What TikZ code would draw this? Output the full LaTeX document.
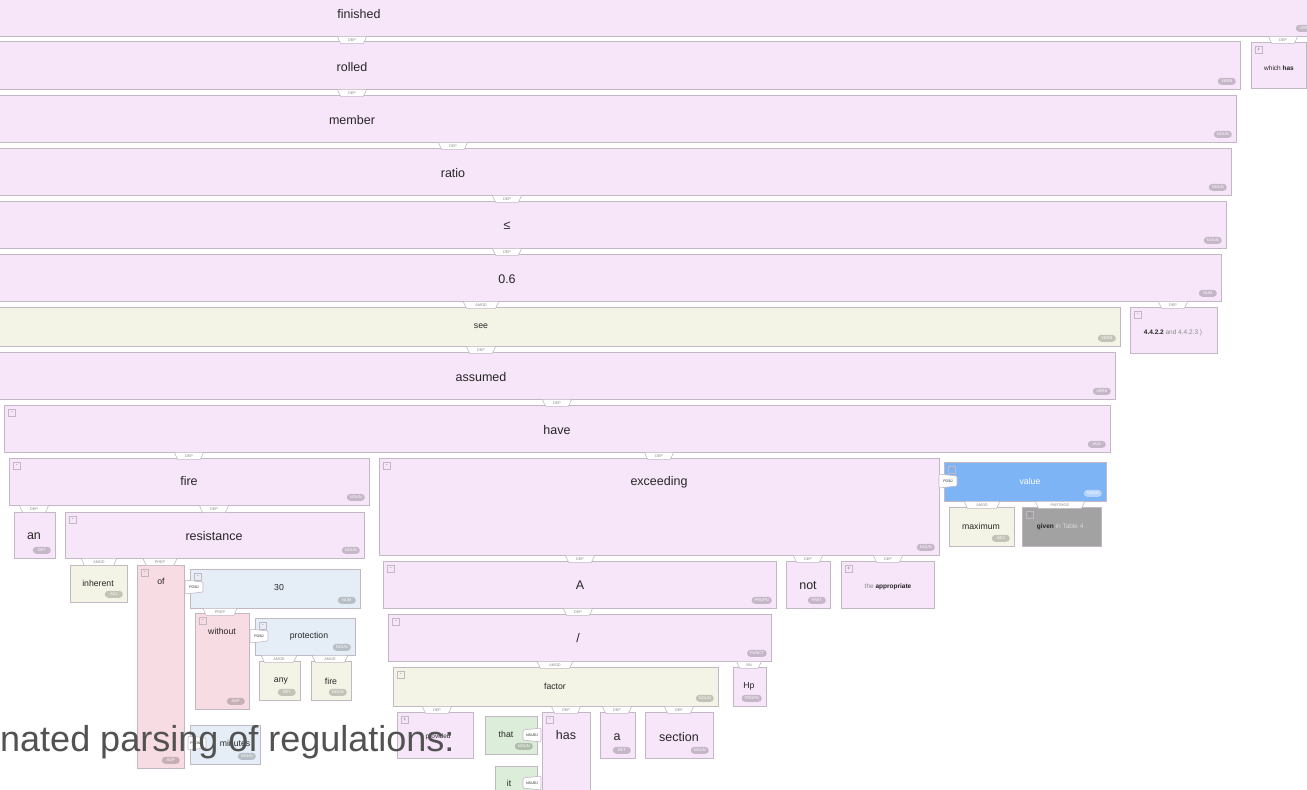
\documentclass[tikz,border=0pt]{standalone}
\usepackage{fontspec}
\setmainfont{Liberation Sans}
\usetikzlibrary{shapes.geometric}
\definecolor{pk}{HTML}{F7E5F9}
\definecolor{bd}{HTML}{C2B8C4}
\definecolor{cr}{HTML}{F4F4E6}
\definecolor{rd}{HTML}{F8DCE3}
\definecolor{lb}{HTML}{E5EEF7}
\definecolor{bl}{HTML}{7CB4F6}
\definecolor{gy}{HTML}{A2A2A2}
\definecolor{gr}{HTML}{DCEDD9}
\definecolor{tx}{HTML}{262626}
\definecolor{lt}{HTML}{8A8A8A}
\newcommand\bx[6]{\node[#6, minimum width={((#4)-(#2))*1pt}, minimum height={((#5)-(#3))*1pt}] (#1) at (#2,#3) {};}
\newcommand\pos[3][]{\node[pill,#1, anchor=south east] (#2-p) at ([xshift=-4pt,yshift=4pt]#2.south east) {#3};}
\newcommand\tg[2]{\node[tog, anchor=north west] (#1-t) at ([xshift=4pt,yshift=-4pt]#1.north west) {#2};}
\newcommand\dtab[4]{\node[dtabst] (#1) at (#2,#3) {#4};}
\newcommand\ltab[4]{\draw[tabline] (#2-9,#3-7) -- (#2+9,#3-5) -- (#2+9,#3+5) -- (#2-9,#3+7) -- cycle;
  \node[sidetx] (#1) at (#2,#3) {#4};}
\newcommand\rtab[4]{\draw[tabline] (#2-9,#3-5) -- (#2+9,#3-7) -- (#2+9,#3+7) -- (#2-9,#3+5) -- cycle;
  \node[sidetx] (#1) at (#2,#3) {#4};}
\begin{document}
\begin{tikzpicture}[x=1pt,y=-1pt,
  box/.style={draw=bd, line width=0.9pt, inner sep=0pt, outer sep=0pt, anchor=north west},
  pkb/.style={box, fill=pk},
  crb/.style={box, fill=cr},
  rdb/.style={box, fill=rd},
  lbb/.style={box, fill=lb},
  blb/.style={box, fill=bl},
  gyb/.style={box, fill=gy},
  grb/.style={box, fill=gr},
  big/.style={font=\fontsize{12.5}{14}\selectfont, text=tx, inner sep=0pt},
  sm/.style={font=\fontsize{8.7}{10}\selectfont, text=tx, inner sep=0pt},
  tn/.style={font=\fontsize{6.5}{8}\selectfont, text=tx, inner sep=0pt},
  pill/.style={rounded corners=3.5pt, fill=black, fill opacity=0.2, text opacity=1, text=white,
    font=\fontsize{4}{4}\selectfont, inner xsep=3pt, inner ysep=0pt, minimum height=7pt, minimum width=18pt},
  tog/.style={draw=bd, line width=0.6pt, minimum size=7pt, inner sep=0pt,
    font=\fontsize{6}{6}\selectfont, text=lt},
  dtabst/.style={trapezium, trapezium angle=65, shape border rotate=180, draw=bd, fill=white,
    line width=0.6pt, inner xsep=2pt, inner ysep=0.5pt, minimum height=7pt, minimum width=14pt,
    anchor=north, font=\fontsize{3.8}{4}\selectfont, text=lt},
  tabline/.style={draw=bd, fill=white, line width=0.6pt, rounded corners=1pt},
  sidetx/.style={font=\fontsize{3.6}{4}\selectfont, text=tx, inner sep=0pt},
  bigtext/.style={font=\fontsize{36}{40}\selectfont, text=black!68, inner sep=0pt, anchor=base west}
]
\useasboundingbox (0,0) rectangle (1307,790);
\clip (0,0) rectangle (1307,790);
\fill[white] (0,0) rectangle (1307,790);
% boxes
\bx{fin}{-5}{-10}{1318}{36}{pkb}
\bx{whi}{1251}{42}{1306}{88}{pkb}
\bx{rol}{-5}{41}{1240}{89}{pkb}
\bx{mem}{-5}{95}{1236}{142}{pkb}
\bx{rat}{-5}{148}{1231}{195}{pkb}
\bx{leq}{-5}{201}{1226}{248}{pkb}
\bx{num}{-5}{254}{1221}{301}{pkb}
\bx{see}{-5}{307}{1120}{346}{crb}
\bx{fou}{1130}{307}{1217}{353}{pkb}
\bx{ass}{-5}{352}{1115}{399}{pkb}
\bx{hav}{4}{405}{1110}{452}{pkb}
\bx{fir}{9}{458}{369}{505}{pkb}
\bx{exc}{379}{458}{939}{555}{pkb}
\bx{val}{944}{462}{1106}{501}{blb}
\bx{an}{14}{512}{55}{558}{pkb}
\bx{res}{65}{512}{364}{558}{pkb}
\bx{inh}{70}{565}{127}{602}{crb}
\bx{of}{137}{565}{184}{768}{rdb}
\bx{thi}{190}{569}{360}{608}{lbb}
\bx{wit}{195}{613}{249}{709}{rdb}
\bx{pro}{255}{618}{355}{655}{lbb}
\bx{any}{259}{661}{300}{700}{crb}
\bx{fis}{311}{661}{351}{700}{crb}
\bx{min}{190}{725}{260}{764}{lbb}
\bx{A}{383}{561}{776}{608}{pkb}
\bx{not}{786}{561}{830}{608}{pkb}
\bx{app}{841}{561}{934}{608}{pkb}
\bx{sl}{388}{614}{771}{661}{pkb}
\bx{fac}{393}{667}{718}{706}{crb}
\bx{hp}{733}{667}{766}{706}{pkb}
\bx{pvd}{397}{712}{473}{758}{pkb}
\bx{tha}{485}{716}{537}{754}{grb}
\bx{has}{542}{712}{590}{800}{pkb}
\bx{a}{600}{712}{635}{758}{pkb}
\bx{sec}{645}{712}{713}{758}{pkb}
\bx{it}{495}{766}{537}{800}{grb}
\bx{max}{949}{507}{1014}{546}{crb}
\bx{giv}{1022}{507}{1101}{546}{gyb}
% toggles
\tg{whi}{+}\tg{fou}{-}\tg{hav}{-}\tg{fir}{-}\tg{res}{-}\tg{of}{-}\tg{thi}{-}
\tg{wit}{-}\tg{pro}{-}\tg{exc}{-}\tg{A}{-}\tg{app}{+}\tg{sl}{-}\tg{fac}{-}
\tg{pvd}{+}\tg{has}{-}\tg{val}{-}\tg{giv}{+}
% pos pills
\pos{fin}{VERB}\pos{rol}{VERB}\pos{mem}{NOUN}\pos{rat}{NOUN}\pos{leq}{NOUN}
\pos{num}{NUM}\pos{see}{VERB}\pos{ass}{VERB}\pos{hav}{AUX}\pos{fir}{NOUN}
\pos{an}{DET}\pos{res}{NOUN}\pos{inh}{ADJ}\pos{of}{ADP}\pos{thi}{NUM}
\pos{wit}{ADP}\pos{pro}{NOUN}\pos{any}{DET}\pos{fis}{NOUN}\pos{min}{NOUN}
\pos{exc}{NOUN}\pos{A}{PROPN}\pos{not}{PART}\pos{sl}{PUNCT}\pos{fac}{NOUN}
\pos{hp}{PROPN}\pos{tha}{NOUN}\pos{a}{DET}\pos{sec}{NOUN}
\pos[fill=white, fill opacity=0.45]{val}{NOUN}\pos{max}{ADJ}
% words
\node[big] (w-fin) at (359,14) {finished};
\node[tn] (w-whi) at (1279,68) {which \textbf{has}};
\node[big] (w-rol) at (352,67) {rolled};
\node[big] (w-mem) at (352,120) {member};
\node[big] (w-rat) at (453,173) {ratio};
\node[big] (w-leq) at (507,226) {≤};
\node[big] (w-num) at (507,279) {0.6};
\node[sm] (w-see) at (481,326) {see};
\node[tn] (w-fou) at (1173,333) {\textbf{4.4.2.2} \textcolor{lt}{and 4.4.2.3 )}};
\node[big] (w-ass) at (481,377) {assumed};
\node[big] (w-hav) at (557,430) {have};
\node[big] (w-fir) at (189,481) {fire};
\node[big] (w-exc) at (659,482) {exceeding};
\node[sm, text=white] (w-val) at (1030,481) {value};
\node[big] (w-an) at (34,536) {an};
\node[big] (w-res) at (214,536) {resistance};
\node[sm] (w-inh) at (98,583) {inherent};
\node[sm] (w-of) at (161,581) {of};
\node[sm] (w-thi) at (279,587) {30};
\node[sm] (w-wit) at (222,631) {without};
\node[sm] (w-pro) at (309,636) {protection};
\node[sm] (w-any) at (281,681) {any};
\node[sm] (w-fis) at (331,681) {fire};
\node[sm] (w-min) at (235,743) {minutes};
\node[big] (w-A) at (580,585) {A};
\node[big] (w-not) at (808,586) {not};
\node[tn] (w-app) at (888,587) {\textcolor{lt}{the} \textbf{appropriate}};
\node[big] (w-sl) at (578,638) {/};
\node[sm] (w-fac) at (555,686) {factor};
\node[sm] (w-hp) at (749,686) {Hp};
\node[tn] (w-pvd) at (436,737) {. provided};
\node[sm] (w-tha) at (506,734) {that};
\node[big] (w-has) at (566,735) {has};
\node[big] (w-a) at (617,737) {a};
\node[big] (w-sec) at (679,737) {section};
\node[sm] (w-it) at (509,783) {it};
\node[sm] (w-max) at (981,526) {maximum};
\node[tn] (w-giv) at (1062,527) {\textbf{given} \textcolor{white!85!black}{in Table 4 .}};
% dependency tabs (hang from parent bottom)
\dtab{d1}{352}{36}{DEP}
\dtab{d2}{1283}{36}{DEP}
\dtab{d3}{352}{89}{DEP}
\dtab{d4}{453}{142}{DEP}
\dtab{d5}{507}{195}{DEP}
\dtab{d6}{507}{248}{DEP}
\dtab{d7}{481}{301}{AMOD}
\dtab{d8}{1173}{301}{DEP}
\dtab{d9}{481}{346}{DEP}
\dtab{d10}{557}{399}{DEP}
\dtab{d11}{189}{452}{DEP}
\dtab{d12}{659}{452}{DEP}
\dtab{d13}{34}{505}{DEP}
\dtab{d14}{214}{505}{DEP}
\dtab{d15}{99}{558}{AMOD}
\dtab{d16}{160}{558}{PREP}
\dtab{d17}{220}{608}{PREP}
\dtab{d18}{279}{655}{AMOD}
\dtab{d19}{330}{655}{AMOD}
\dtab{d20}{580}{555}{DEP}
\dtab{d21}{808}{555}{DEP}
\dtab{d22}{888}{555}{DEP}
\dtab{d23}{578}{608}{DEP}
\dtab{d24}{555}{661}{AMOD}
\dtab{d25}{749}{661}{NN}
\dtab{d26}{437}{706}{DEP}
\dtab{d27}{566}{706}{DEP}
\dtab{d28}{617}{706}{DEP}
\dtab{d29}{679}{706}{DEP}
\dtab{d30}{982}{501}{AMOD}
\dtab{d31}{1060}{501}{PARTMOD}
% side tabs
\ltab{s1}{194}{587}{POBJ}
\ltab{s2}{197}{743}{PCOMP}
\ltab{s3}{259}{636}{POBJ}
\ltab{s4}{948}{481}{POBJ}
\rtab{s5}{532}{735}{NSUBJ}
\rtab{s6}{532}{783}{NSUBJ}
% caption fragment
\node[bigtext] (cap) at (0,751) {nated parsing of regulations:};
\end{tikzpicture}
\end{document}
